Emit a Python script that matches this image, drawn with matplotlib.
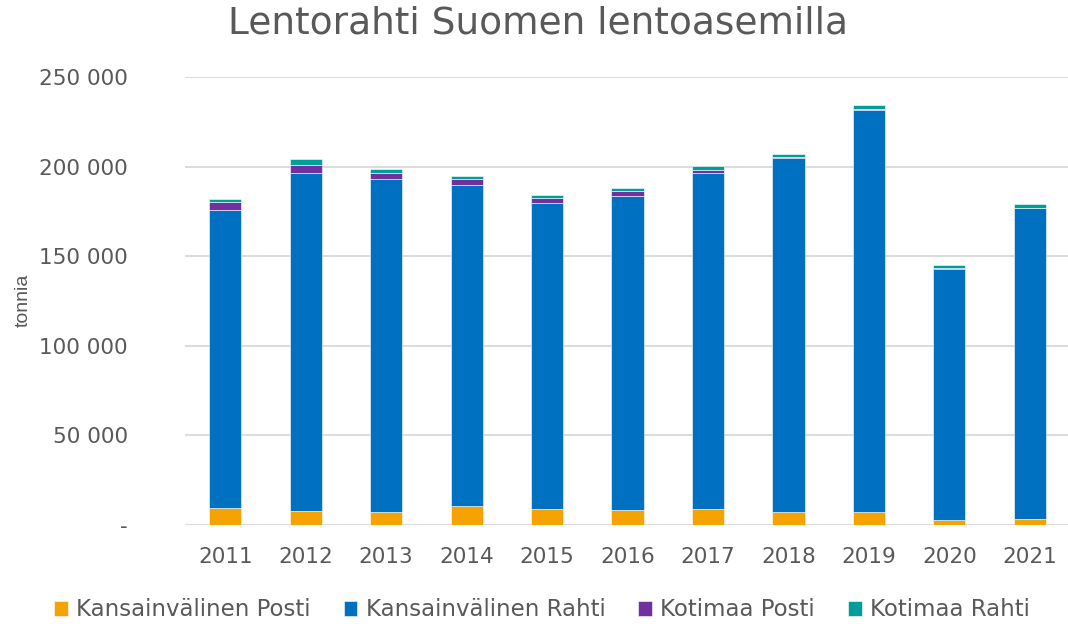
import matplotlib
matplotlib.use("Agg")
import matplotlib.pyplot as plt
import numpy as np
from matplotlib.ticker import FuncFormatter

YEARS = ["2011", "2012", "2013", "2014", "2015", "2016",
         "2017", "2018", "2019", "2020", "2021"]
INT_POSTI = [9300, 7650, 7250, 10600, 8750, 8400, 8750, 7250, 7450, 2950, 3200]
INT_RAHTI = [166300, 188950, 185650, 179300, 170750, 175000,
             187850, 197750, 224150, 140050, 173600]
KOT_POSTI = [4800, 4100, 3400, 3000, 3200, 3000, 1500, 400, 400, 200, 100]
KOT_RAHTI = [1500, 3500, 2200, 1900, 1300, 1800, 2200, 1800, 2400, 2100, 2400]

SERIES = [
    ("Kansainvälinen Posti", INT_POSTI, "#F5A300"),
    ("Kansainvälinen Rahti", INT_RAHTI, "#0070C0"),
    ("Kotimaa Posti", KOT_POSTI, "#7030A0"),
    ("Kotimaa Rahti", KOT_RAHTI, "#009E9A"),
]
GREY = "#595959"

fig = plt.figure(figsize=(10.68, 6.24), dpi=100)
ax = fig.add_axes([185 / 1068, 1 - 525 / 624, 885 / 1068, 448 / 624])

x = np.arange(len(YEARS))
bottom = np.zeros(len(YEARS))
for label, vals, colour in SERIES:
    vals = np.array(vals, dtype=float)
    ax.bar(x, vals, width=0.4, bottom=bottom, color=colour, label=label,
           edgecolor="white", linewidth=0.4, zorder=3)
    bottom += vals

ax.set_xlim(-0.5, len(YEARS) - 0.5)
ax.set_ylim(0, 250000)
ax.set_yticks(np.arange(0, 250001, 50000))
ax.yaxis.set_major_formatter(FuncFormatter(
    lambda v, p: "-" if v == 0 else f"{int(v):,}".replace(",", " ")))
ax.set_xticks(x)
ax.set_xticklabels(YEARS)
ax.tick_params(axis="both", length=0, labelsize=15.5, colors=GREY)
ax.tick_params(axis="y", pad=41)
ax.tick_params(axis="x", pad=16)
ax.grid(True, axis="y", color="#D9D9D9", linewidth=1.3, zorder=0)
for s in ax.spines.values():
    s.set_visible(False)

fig.text(23 / 1068, 1 - 300 / 624, "tonnia", rotation=90, fontsize=14,
         color=GREY, ha="center", va="center",
         family=["Liberation Sans Narrow", "Liberation Sans"])
fig.text(538 / 1068, 1 - 23 / 624, "Lentorahti Suomen lentoasemilla",
         fontsize=27, color=GREY, ha="center", va="center")

ax.legend(loc="center", bbox_to_anchor=(542 / 1068, 1 - 610 / 624),
          bbox_transform=fig.transFigure, ncol=4, frameon=False,
          fontsize=16.5, labelcolor=GREY, handlelength=0.6, handleheight=0.6,
          handletextpad=0.35, columnspacing=1.45)

fig.savefig("out.png", dpi=100)
